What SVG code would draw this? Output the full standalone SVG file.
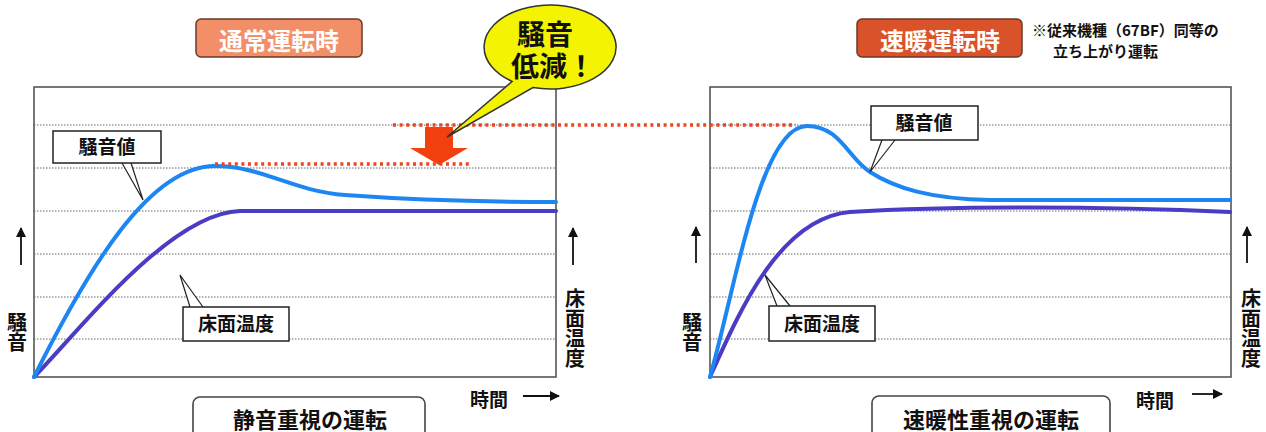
<svg xmlns="http://www.w3.org/2000/svg" width="1266" height="432" viewBox="0 0 1266 432">
<defs>
<style>
text{font-family:"Noto Sans CJK JP","Noto Sans CJK SC",sans-serif;font-weight:700;fill:#111}
.co{font-family:"Liberation Sans","Noto Sans CJK JP",sans-serif}
.vt{writing-mode:vertical-rl;text-orientation:upright}
.frame{fill:none;stroke:#555;stroke-width:1.6}
.grid{stroke:#666;stroke-width:1;stroke-dasharray:1.5 1.5}
.noise{fill:none;stroke:#1e86f2;stroke-width:4;stroke-linecap:round}
.temp{fill:none;stroke:#4a3cc4;stroke-width:4;stroke-linecap:round}
.red{stroke:#ee4420;stroke-width:3.5;stroke-dasharray:3 3.6}
.lbl{fill:#fff;stroke:#222;stroke-width:1.5}
.wedge{fill:#fff;stroke:#222;stroke-width:1.2}
.ax{stroke:#111;stroke-width:1.8}
.bot{fill:#fff;stroke:#444;stroke-width:1.6}
</style>
<marker id="ah" viewBox="0 0 10 10" refX="9" refY="5" markerWidth="11" markerHeight="10" markerUnits="userSpaceOnUse" orient="auto">
<path d="M0,0 L10,5 L0,10 Z" fill="#111"/>
</marker>
</defs>
<rect width="1266" height="432" fill="#fff"/>

<g id="title-left">
<rect x="196" y="19" width="166" height="38" rx="5" fill="#f38f68" stroke="#6a3a2a" stroke-width="1.5"/>
<text x="279" y="50" font-size="24" text-anchor="middle" style="fill:#fff">通常運転時</text>
</g>
<g id="title-right">
<rect x="857" y="19" width="165" height="38" rx="5" fill="#d9522a" stroke="#6a3a2a" stroke-width="1.5"/>
<text x="940" y="50" font-size="24" text-anchor="middle" style="fill:#fff">速暖運転時</text>
</g>
<g id="note">
<text x="1032" y="36" font-size="15">※従来機種（67BF）同等の</text>
<text x="1053" y="57" font-size="15">立ち上がり運転</text>
</g>

<g id="chart-left">
<rect class="frame" x="34" y="87" width="522" height="290"/>
<line class="grid" x1="34" y1="125" x2="556" y2="125"/>
<line class="grid" x1="34" y1="168" x2="556" y2="168"/>
<line class="grid" x1="34" y1="211" x2="556" y2="211"/>
<line class="grid" x1="34" y1="254" x2="556" y2="254"/>
<line class="grid" x1="34" y1="297" x2="556" y2="297"/>
<line class="grid" x1="34" y1="339" x2="556" y2="339"/>
<path class="temp" d="M34,377 C80,330 170,213 240,211 L556,211"/>
<path class="noise" d="M34,377 C90,265 150,166 215,166 C262,166 292,191 345,195 C400,199 480,202 556,202"/>
</g>

<g id="chart-right">
<rect class="frame" x="710" y="87" width="521" height="290"/>
<line class="grid" x1="710" y1="125" x2="1231" y2="125"/>
<line class="grid" x1="710" y1="168" x2="1231" y2="168"/>
<line class="grid" x1="710" y1="211" x2="1231" y2="211"/>
<line class="grid" x1="710" y1="254" x2="1231" y2="254"/>
<line class="grid" x1="710" y1="297" x2="1231" y2="297"/>
<line class="grid" x1="710" y1="339" x2="1231" y2="339"/>
<path class="temp" d="M710,377 C740,310 780,218 850,212 C950,206 1100,206 1230,212"/>
<path class="noise" d="M710,377 C735,290 760,126 807,126 C840,126 848,158 870,172 C895,188 930,199 990,200 L1230,200"/>
</g>

<g id="reduction">
<line class="red" x1="393" y1="125" x2="796" y2="125"/>
<line class="red" x1="215" y1="164" x2="470" y2="164"/>
<polygon points="425,127 453,127 453,148 468,148 439,165 410,148 425,148" fill="#f2400e"/>
</g>

<g id="callout">
<path d="M512.1,81.4 L447,137 L532.9,87.6 A66,42 0 1 0 512.1,81.4 Z" fill="#f4f400" stroke="#333" stroke-width="1.5"/>
<text class="co" font-size="28" text-anchor="middle"><tspan x="545" y="45">騒音</tspan><tspan x="553" y="77">低減！</tspan></text>
</g>

<g id="connectors">
<path class="wedge" d="M122,163 L143,200 L131,163"/>
<path class="wedge" d="M190,307 L180,275 L203,307"/>
<path class="wedge" d="M882,140 L870,172 L895,140"/>
<path class="wedge" d="M777,306 L765,275 L790,306"/>
<line class="ax" x1="21" y1="265" x2="21" y2="228" marker-end="url(#ah)"/>
<line class="ax" x1="573" y1="265" x2="573" y2="228" marker-end="url(#ah)"/>
<line class="ax" x1="696" y1="263" x2="696" y2="227" marker-end="url(#ah)"/>
<line class="ax" x1="1247" y1="263" x2="1247" y2="227" marker-end="url(#ah)"/>
<line class="ax" x1="523" y1="396" x2="559" y2="396" marker-end="url(#ah)"/>
<line class="ax" x1="1192" y1="394" x2="1222" y2="394" marker-end="url(#ah)"/>
</g>

<g id="label-noise-left">
<rect class="lbl" x="53" y="131" width="108" height="32"/>
<text x="107" y="154" font-size="19" text-anchor="middle">騒音値</text>
</g>
<g id="label-temp-left">
<rect class="lbl" x="183" y="307" width="106" height="34"/>
<text x="236" y="331" font-size="19" text-anchor="middle">床面温度</text>
</g>
<g id="label-noise-right">
<rect class="lbl" x="871" y="106" width="107" height="34"/>
<text x="924" y="130" font-size="19" text-anchor="middle">騒音値</text>
</g>
<g id="label-temp-right">
<rect class="lbl" x="769" y="306" width="106" height="35"/>
<text x="822" y="331" font-size="19" text-anchor="middle">床面温度</text>
</g>

<g id="axis-left">
<text class="vt" x="17" y="312" font-size="20">騒音</text>
<text class="vt" x="575" y="288" font-size="20">床面温度</text>
<text x="470" y="407" font-size="19">時間</text>
</g>
<g id="axis-right">
<text class="vt" x="692" y="312" font-size="20">騒音</text>
<text class="vt" x="1251" y="288" font-size="20">床面温度</text>
<text x="1136" y="408" font-size="19">時間</text>
</g>

<g id="mode-left">
<rect class="bot" x="193" y="397" width="232" height="50" rx="7"/>
<text x="310" y="428" font-size="22" text-anchor="middle">静音重視の運転</text>
</g>
<g id="mode-right">
<rect class="bot" x="872" y="396" width="238" height="50" rx="7"/>
<text x="991" y="428" font-size="22" text-anchor="middle">速暖性重視の運転</text>
</g>
</svg>
